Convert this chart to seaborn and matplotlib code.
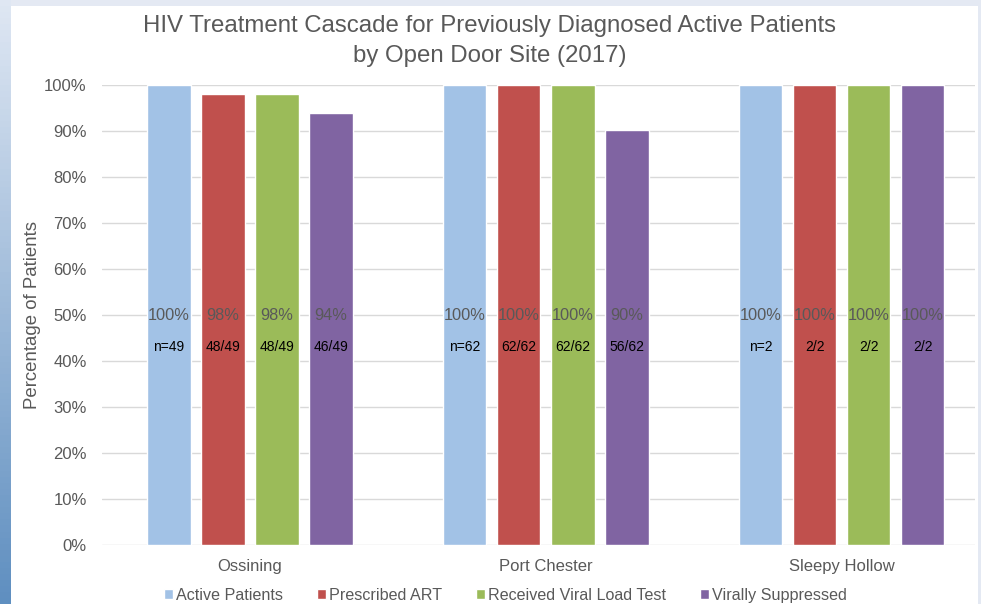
import numpy as np
import pandas as pd
import matplotlib
matplotlib.use('Agg')
import matplotlib.pyplot as plt
from matplotlib.patches import Rectangle
from matplotlib.ticker import PercentFormatter
import seaborn as sns

sites = ['Ossining', 'Port Chester', 'Sleepy Hollow']
stages = ['Active Patients', 'Prescribed ART', 'Received Viral Load Test', 'Virally Suppressed']
n_active = [49, 62, 2]
prescribed = [48, 62, 2]
viral_test = [48, 62, 2]
suppressed = [46, 56, 2]
colors = ['#a2c2e6', '#c0504d', '#9bbb59', '#8064a2']

counts = [n_active, prescribed, viral_test, suppressed]
rows = []
for stage, vals in zip(stages, counts):
    for i, site in enumerate(sites):
        rows.append({'site': site, 'stage': stage, 'num': vals[i], 'den': n_active[i],
                     'pct': vals[i] / n_active[i]})
df = pd.DataFrame(rows)

sns.set_theme(style='white')
plt.rcParams['font.family'] = ['Liberation Sans', 'DejaVu Sans']

fig = plt.figure(figsize=(9.81, 6.04), dpi=100)
fig.patch.set_facecolor('#e4e9f3')
# left bluish strip
strip = fig.add_axes([0, 0, 0.011, 1])
grad = np.linspace(0, 1, 100).reshape(-1, 1)
strip.imshow(grad, aspect='auto', cmap=matplotlib.colors.LinearSegmentedColormap.from_list(
    'bg', ['#5f8fc0', '#dfe7f3']), origin='lower')
strip.axis('off')
fig.patches.append(Rectangle((10 / 981, 0), 968 / 981, 598 / 604, transform=fig.transFigure,
                             facecolor='white', edgecolor='none', zorder=-10))

ax = fig.add_axes([102 / 981, 1 - 545 / 604, 873 / 981, 460 / 604])
ax.set_facecolor('none')
sns.barplot(data=df, x='site', y='pct', hue='stage', palette=colors, width=0.73, gap=0.2,
            saturation=1, ax=ax, legend=True)

ax.set_ylim(0, 1)
ax.set_xlim(-0.5, 2.45)
ax.set_yticks(np.arange(0, 1.01, 0.1))
ax.yaxis.set_major_formatter(PercentFormatter(1.0, decimals=0))
ax.grid(axis='y', color='#d9d9d9', linewidth=1)
ax.set_axisbelow(True)
for s in ax.spines.values():
    s.set_visible(False)
ax.tick_params(axis='both', length=0, labelsize=12, labelcolor='#595959')
ax.tick_params(axis='y', pad=11)
ax.tick_params(axis='x', pad=10)
ax.set_xlabel('')
ax.set_ylabel('Percentage of Patients', fontsize=13.4, color='#595959', labelpad=2)

for k, cont in enumerate(ax.containers):
    vals = counts[k]
    for i, bar in enumerate(cont):
        xc = bar.get_x() + bar.get_width() / 2
        pct = vals[i] / n_active[i]
        ax.text(xc, 0.5, f'{pct * 100:.0f}%', ha='center', va='center', fontsize=11.8,
                color='#595959')
        lab = f'n={vals[i]}' if k == 0 else f'{vals[i]}/{n_active[i]}'
        ax.text(xc, 0.43, lab, ha='center', va='center', fontsize=10, color='black')

leg = ax.legend(loc='center', bbox_to_anchor=(0.515, 0.014), bbox_transform=fig.transFigure,
                ncol=4, frameon=False, fontsize=11.6, handlelength=0.55, handleheight=0.55,
                handletextpad=0.2, columnspacing=2.1)
for t in leg.get_texts():
    t.set_color('#595959')

fig.text(0.499, 0.975, 'HIV Treatment Cascade for Previously Diagnosed Active Patients\nby Open Door Site (2017)',
         ha='center', va='top', fontsize=17.3, color='#595959', linespacing=1.45)

fig.savefig('out.png', dpi=100)
